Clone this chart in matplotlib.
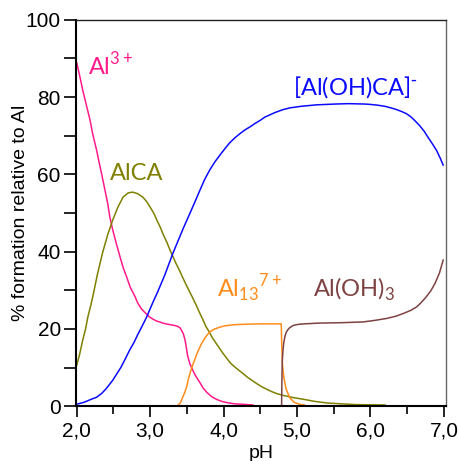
import matplotlib
matplotlib.use("Agg")
import matplotlib.pyplot as plt
from matplotlib.ticker import MultipleLocator, FuncFormatter

plt.rcParams['font.family'] = ['Liberation Sans', 'DejaVu Sans']
plt.rcParams['mathtext.fontset'] = 'custom'

# ---- data ----
al3_ph = [2.0, 2.04, 2.08, 2.13, 2.18, 2.22, 2.27, 2.3, 2.34, 2.38, 2.42, 2.45, 2.49, 2.54, 2.59,
          2.63, 2.68, 2.73, 2.79, 2.83, 2.88, 2.93, 2.99, 3.04, 3.09, 3.13, 3.17, 3.24, 3.3, 3.35,
          3.38, 3.41, 3.43, 3.45, 3.47, 3.49, 3.51, 3.54, 3.58, 3.62, 3.68, 3.72, 3.77, 3.81, 3.85,
          3.9, 3.95, 4.0, 4.08, 4.15, 4.25, 4.4]
al3_pct = [88.9, 85.5, 81.9, 78.0, 74.1, 70.2, 66.3, 63.5, 60.0, 56.3, 52.6, 49.0, 45.6, 42.0, 38.6,
           36.0, 33.4, 30.7, 28.5, 26.7, 25.2, 24.2, 23.1, 22.5, 22.0, 21.8, 21.5, 21.2, 21.0, 20.8,
           20.6, 20.2, 19.5, 18.8, 17.5, 15.5, 13.0, 11.0, 9.3, 7.8, 6.0, 4.7, 3.6, 2.9, 2.3,
           1.8, 1.4, 1.1, 0.8, 0.6, 0.5, 0.3]

alca_ph = [2.0, 2.04, 2.08, 2.12, 2.15, 2.19, 2.22, 2.28, 2.35, 2.42, 2.49, 2.56, 2.63, 2.7, 2.76,
           2.83, 2.9, 2.95, 3.0, 3.05, 3.09, 3.14, 3.18, 3.23, 3.27, 3.31, 3.35, 3.4, 3.44, 3.49,
           3.54, 3.58, 3.63, 3.67, 3.72, 3.76, 3.81, 3.85, 3.9, 3.95, 3.99, 4.05, 4.1, 4.18, 4.26,
           4.33, 4.4, 4.47, 4.53, 4.65, 4.73, 4.81, 4.95, 5.08, 5.25, 5.42, 5.6, 5.8, 6.0, 6.2]
alca_pct = [10.6, 13.5, 17.0, 20.0, 23.0, 26.0, 28.5, 34.0, 39.6, 44.3, 48.2, 51.5, 54.1, 55.2, 55.4,
            55.0, 54.1, 53.0, 51.5, 49.9, 48.2, 46.2, 44.3, 42.3, 40.4, 38.7, 37.0, 35.1, 33.4, 31.4,
            29.5, 28.0, 26.0, 24.3, 22.3, 20.6, 19.0, 17.6, 16.2, 14.8, 13.7, 12.2, 11.0, 9.7, 8.5,
            7.4, 6.5, 5.6, 4.9, 3.8, 3.2, 2.8, 2.2, 1.8, 1.2, 0.8, 0.6, 0.4, 0.35, 0.3]

aloh_ca_ph = [2.0, 2.1, 2.2, 2.27, 2.34, 2.4, 2.49, 2.6, 2.66, 2.72, 2.78, 2.83, 2.89, 2.95, 3.04,
              3.1, 3.2, 3.31, 3.38, 3.45, 3.52, 3.58, 3.68, 3.74, 3.81, 3.88, 3.95, 4.02, 4.08, 4.15,
              4.22, 4.29, 4.36, 4.43, 4.5, 4.56, 4.63, 4.7, 4.8, 4.9, 5.05, 5.27, 5.4, 5.52, 5.7,
              5.92, 6.0, 6.1, 6.2, 6.28, 6.35, 6.42, 6.49, 6.55, 6.61, 6.67, 6.73, 6.78, 6.84, 6.9,
              6.95, 6.99]
aloh_ca_pct = [0.5, 1.0, 1.8, 2.3, 3.3, 4.5, 6.7, 10.0, 12.2, 14.5, 16.5, 18.5, 20.7, 23.0, 27.0,
               29.5, 34.0, 39.6, 42.8, 46.0, 49.0, 51.6, 56.0, 58.6, 61.1, 63.2, 65.0, 66.7, 68.1, 69.4,
               70.5, 71.5, 72.3, 73.2, 74.0, 74.8, 75.4, 76.0, 76.7, 77.2, 77.6, 78.0, 78.1, 78.2, 78.3,
               78.2, 78.1, 77.9, 77.6, 77.2, 76.8, 76.3, 75.7, 74.9, 73.8, 72.6, 71.2, 69.7, 68.0, 66.2,
               64.2, 62.4]

al13_ph = [3.38, 3.41, 3.44, 3.47, 3.5, 3.52, 3.55, 3.58, 3.61, 3.65, 3.7, 3.75, 3.81, 3.87, 3.94,
           4.02, 4.15, 4.3, 4.5, 4.785, 4.79, 4.80, 4.82, 4.85, 4.9, 4.96, 5.03, 5.1]
al13_pct = [0.3, 0.8, 2.2, 3.5, 5.2, 7.0, 9.0, 10.7, 12.2, 14.2, 16.2, 17.8, 19.2, 19.9, 20.4,
            20.8, 21.1, 21.2, 21.3, 21.3, 17.0, 11.0, 7.5, 4.5, 2.2, 1.0, 0.5, 0.3]

aloh3_ph = [4.79, 4.792, 4.795, 4.80, 4.81, 4.82, 4.835, 4.85, 4.875, 4.9, 4.94, 4.97, 5.03, 5.1, 5.3,
            5.6, 5.9, 6.06, 6.22, 6.35, 6.45, 6.55, 6.63, 6.7, 6.76, 6.82, 6.88, 6.94, 6.99]
aloh3_pct = [0.3, 4.0, 8.0, 12.0, 14.8, 16.5, 18.0, 19.0, 19.8, 20.3, 20.8, 21.0, 21.2, 21.3, 21.5,
             21.6, 21.8, 22.2, 22.7, 23.3, 24.0, 24.8, 25.7, 27.0, 28.3, 29.8, 31.8, 34.5, 37.8]

x_ticks = [2, 3, 4, 5, 6, 7]
y_ticks = [0, 20, 40, 60, 80, 100]

c_al3 = '#ff1a8c'
c_alca = '#808000'
c_blue = '#0a0aff'
c_al13 = '#ff8c1a'
c_aloh3 = '#7f4242'

fig = plt.figure(figsize=(4.58, 4.61), dpi=100)
ax = fig.add_axes([0.166, 0.119, 0.808, 0.838])

lw = 1.1
ax.plot(al3_ph, al3_pct, color=c_al3, lw=lw)
ax.plot(alca_ph, alca_pct, color=c_alca, lw=lw)
ax.plot(aloh_ca_ph, aloh_ca_pct, color=c_blue, lw=lw)
ax.plot(al13_ph, al13_pct, color=c_al13, lw=lw)
ax.plot(aloh3_ph, aloh3_pct, color=c_aloh3, lw=lw)

ax.set_xlim(1.99, 7.03)
ax.set_ylim(0, 100)
ax.set_xticks(x_ticks)
ax.set_yticks(y_ticks)
ax.xaxis.set_minor_locator(MultipleLocator(0.5))
ax.yaxis.set_minor_locator(MultipleLocator(10))
ax.xaxis.set_major_formatter(FuncFormatter(lambda v, p: f"{v:.1f}".replace('.', ',')))
ax.tick_params(axis='y', which='both', direction='out', length=9, width=1.2,
               labelsize=15, pad=2)
ax.tick_params(axis='x', which='major', direction='out', length=8, width=1.2,
               labelsize=15, pad=3)
ax.tick_params(axis='x', which='minor', direction='out', length=6, width=1.2)

for s in ['left', 'bottom']:
    ax.spines[s].set_linewidth(1.5)
    ax.spines[s].set_color('black')
ax.spines['top'].set_linewidth(1.0)
ax.spines['top'].set_color('#222222')
ax.spines['right'].set_linewidth(1.0)
ax.spines['right'].set_color('#666666')

ax.set_ylabel('% formation relative to Al', fontsize=14)
ax.yaxis.set_label_coords(-0.127, 0.5)
ax.set_xlabel('pH', fontsize=14, labelpad=3)

lab_font = dict(family=['Lato', 'DejaVu Sans'], fontsize=17)
ax.text(2.15, 85.8, r'Al$^{\mathregular{3+}}$', color=c_al3, ha='left', va='baseline', **lab_font)
ax.text(2.45, 58.5, 'AlCA', color=c_alca, ha='left', va='baseline', **lab_font)
ax.text(4.94, 80.6, r'[Al(OH)CA]$^{\mathregular{\text{-}}}$', color=c_blue, ha='left', va='baseline', **lab_font)
ax.text(3.91, 28.0, r'Al$_{\mathregular{13}}$$^{\mathregular{7+}}$', color=c_al13, ha='left', va='baseline', **lab_font)
ax.text(5.22, 28.2, r'Al(OH)$_{\mathregular{3}}$', color=c_aloh3, ha='left', va='baseline', **lab_font)

fig.savefig('out.png', dpi=100)
